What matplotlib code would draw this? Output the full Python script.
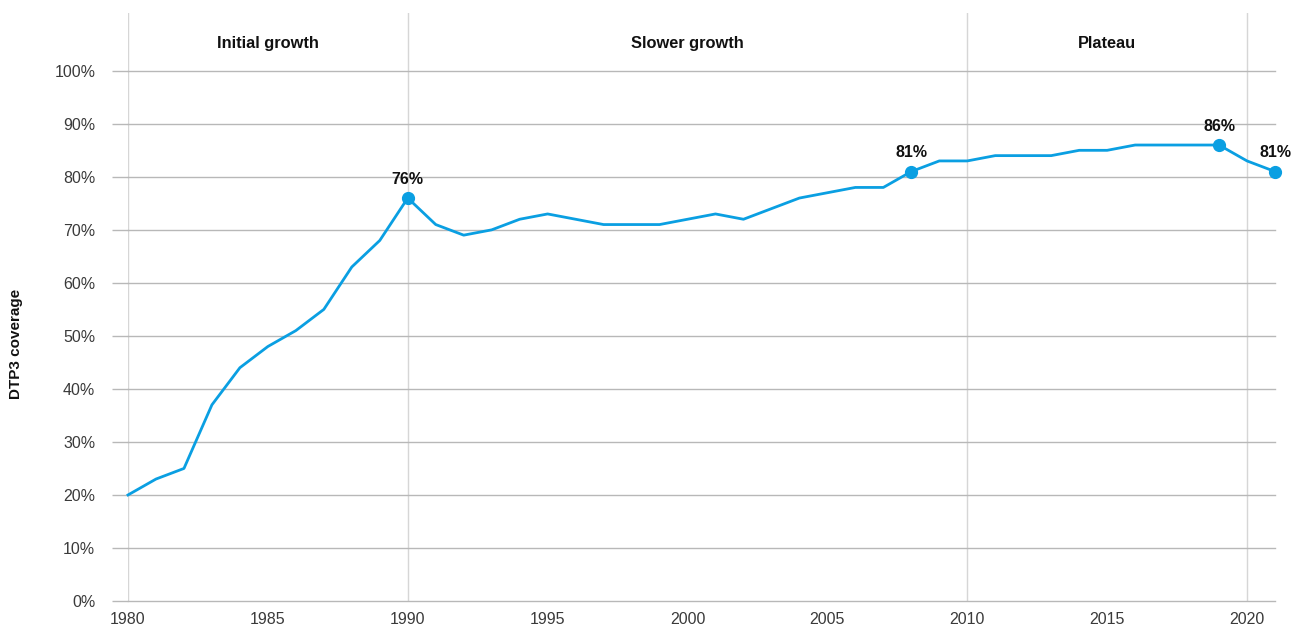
import numpy as np
import matplotlib.pyplot as plt

# DTP3 coverage by year (%)
years = list(range(1980, 2022))
coverage = [20, 23, 25, 37, 44, 48, 51, 55, 63, 68,
            76, 71, 69, 70, 72, 73, 72, 71, 71, 71,
            72, 73, 72, 74, 76, 77, 78, 78, 81, 83,
            83, 84, 84, 84, 85, 85, 86, 86, 86, 86,
            83, 81]

highlight_years = [1990, 2008, 2019, 2021]
highlight_labels = ['76%', '81%', '86%', '81%']

phase_names = ['Initial growth', 'Slower growth', 'Plateau']
phase_centers = [1985, 2000, 2015]
divider_years = [1980, 1990, 2010, 2020]

plt.rcParams['font.family'] = ['Liberation Sans', 'DejaVu Sans']

blue = '#0a9fe2'
text_col = '#3a3a3a'

fig = plt.figure(figsize=(12.95, 6.41), dpi=100)
ax = fig.add_axes([128 / 1295, 40 / 641, 1147 / 1295, 588 / 641])

ax.set_xlim(1980, 2021)
ax.set_ylim(0, 110.9)

# gridlines
for v in range(0, 101, 10):
    ax.axhline(v, color='#b8b8b8', lw=1.0, zorder=1, clip_on=False)
for yr in divider_years:
    ax.axvline(yr, color='#d6d6d6', lw=1.0, zorder=0)

ax.plot(years, coverage, color=blue, lw=2.0, zorder=3, clip_on=False)

hl_vals = [coverage[years.index(y)] for y in highlight_years]
ax.plot(highlight_years, hl_vals, 'o', color=blue, ms=8.5, zorder=4, clip_on=False)
for x, y, lab in zip(highlight_years, hl_vals, highlight_labels):
    ax.annotate(lab, (x, y), xytext=(0, 8), textcoords='offset points',
                ha='center', va='bottom', fontsize=11.5, fontweight='bold',
                color='#111111')

for name, c in zip(phase_names, phase_centers):
    ax.text(c, 105.1, name, ha='center', va='center', fontsize=11.8,
            fontweight='bold', color='#111111')

ax.set_yticks(range(0, 101, 10))
ax.set_yticklabels([f'{v}%' for v in range(0, 101, 10)])
ax.set_xticks(range(1980, 2021, 5))
ax.tick_params(axis='y', length=11.5, width=1.0, color='#b8b8b8', pad=12,
               labelsize=11.5, labelcolor=text_col)
ax.tick_params(axis='x', length=0, pad=8, labelsize=11.5, labelcolor=text_col)

for s in ax.spines.values():
    s.set_visible(False)

ax.set_ylabel('DTP3 coverage', fontsize=11, fontweight='bold', color='#111111')
ax.yaxis.set_label_coords(-0.0915, 0.437)

fig.savefig('out.png', dpi=100)
